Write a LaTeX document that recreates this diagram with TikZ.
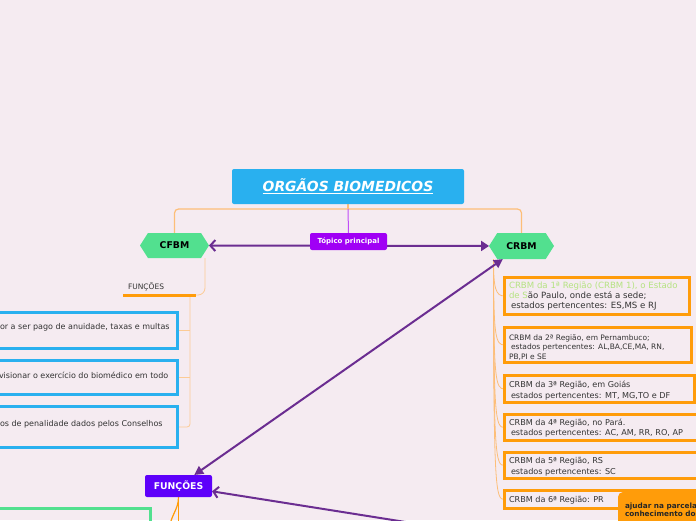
\documentclass[tikz,border=0pt]{standalone}
\usepackage{fontspec}
\setmainfont{DejaVu Sans}
\usetikzlibrary{shapes.symbols,arrows.meta,calc}
\definecolor{bg}{HTML}{F5EBF1}
\definecolor{titleblue}{HTML}{29B0EF}
\definecolor{topicpurple}{HTML}{A000F5}
\definecolor{hexgreen}{HTML}{52E08F}
\definecolor{funcviolet}{HTML}{5E00FA}
\definecolor{arrowpurple}{HTML}{6B2D91}
\definecolor{boxorange}{HTML}{FF9C0A}
\definecolor{lineorange}{HTML}{FDBE78}
\definecolor{paleorange}{HTML}{FCCB95}
\definecolor{textgray}{HTML}{333333}
\definecolor{lightgreen}{HTML}{B5E381}
\definecolor{stemviolet}{HTML}{C04DF7}
\pgfdeclarelayer{bgl}
\pgfdeclarelayer{back}
\pgfsetlayers{bgl,back,main}
\begin{document}
\begin{tikzpicture}[x=1pt,y=-1pt,
  every node/.style={inner sep=0pt, outer sep=0pt},
  hexnode/.style={signal, signal to=east and west, signal pointer angle=115, fill=hexgreen, font=\bfseries\fontsize{9.3}{10}\selectfont, text=black},
  lbox/.style={draw=titleblue, line width=3pt, fill=bg, anchor=north east, minimum width=200pt},
  rbox/.style={draw=boxorange, line width=3pt, fill=bg, anchor=north west},
  ltext/.style={anchor=west, text=textgray, font=\fontsize{8}{9}\selectfont},
  rtext/.style={anchor=west, align=left, text=textgray, font=\fontsize{8.1}{10.5}\selectfont},
  pconn/.style={draw=arrowpurple, line width=2pt},
  thinconn/.style={draw=paleorange, line width=0.8pt},
  rconn/.style={draw=lineorange, line width=0.8pt},
]
\path[use as bounding box] (0,0) rectangle (696,520);
\begin{pgfonlayer}{bgl}
  \fill[bg] (0,0) rectangle (696,520);
\end{pgfonlayer}

% main nodes
\node[fill=titleblue, rounded corners=2pt, minimum width=232pt, minimum height=35pt, text=white, font=\bfseries\fontsize{13.9}{15}\selectfont] (title) at (348,186.5) {\underline{\textit{ORGÃOS BIOMEDICOS}}};
\node[hexnode, minimum width=69pt, minimum height=25pt] (cfbm) at (174.5,245.5) {CFBM};
\node[hexnode, minimum width=65pt, minimum height=26pt] (crbm) at (521.5,246) {CRBM};
\node[fill=topicpurple, rounded corners=2pt, minimum width=77pt, minimum height=17pt, text=white, font=\bfseries\fontsize{7}{8}\selectfont] (topic) at (348.5,241.5) {Tópico principal};

% CFBM branch
\node[anchor=south west, minimum width=73pt, text width=63pt, inner xsep=5pt, inner ysep=4pt, align=left, text=textgray, font=\fontsize{7.5}{8}\selectfont] (flabel) at (123,295) {FUNÇÕES};
\draw[draw=boxorange, line width=3pt] (flabel.south west) -- (flabel.south east);
\node[lbox, minimum height=36pt] (lb1) at (177.5,312.5) {};
\node[lbox, minimum height=34pt] (lb2) at (177.5,360.5) {};
\node[lbox, minimum height=41pt] (lb3) at (177.5,406.5) {};
\node[ltext] (lt1) at (0,327) {or a ser pago de anuidade, taxas e multas};
\node[ltext] (lt2) at (-1,375) {visionar o exercício do biomédico em todo};
\node[ltext] (lt3) at (0,424) {os de penalidade dados pelos Conselhos};

% CRBM branch
\node[rbox, minimum width=185pt, minimum height=37pt] (rb1) at (504.5,277.5) {};
\node[rbox, minimum width=187pt, minimum height=35pt] (rb2) at (504.5,327.5) {};
\node[rbox, minimum width=190pt, minimum height=27pt] (rb3) at (504.5,375.5) {};
\node[rbox, minimum width=200pt, minimum height=26pt] (rb4) at (504.5,414.5) {};
\node[rbox, minimum width=200pt, minimum height=26pt] (rb5) at (504.5,452.5) {};
\node[rbox, minimum width=200pt, minimum height=18pt] (rb6) at (504.5,490.5) {};
\node[rtext, font=\fontsize{8.6}{10}\selectfont] (rt1) at (509,296) {{\color{lightgreen}CRBM da 1ª Região (CRBM 1), o Estado}\\{\color{lightgreen}de S}ão Paulo, onde está a sede;\\\hspace{2pt}estados pertencentes: ES,MS e RJ};
\node[rtext, font=\fontsize{7.5}{9.5}\selectfont] (rt2) at (509,347.5) {CRBM da 2ª Região, em Pernambuco;\\\hspace{2pt}estados pertencentes: AL,BA,CE,MA, RN,\\PB,PI e SE};
\node[rtext] (rt3) at (509,390.5) {CRBM da 3ª Região, em Goiás\\\hspace{2pt}estados pertencentes: MT, MG,TO e DF};
\node[rtext] (rt4) at (509,428) {CRBM da 4ª Região, no Pará.\\\hspace{2pt}estados pertencentes: AC, AM, RR, RO, AP};
\node[rtext] (rt5) at (509,466.5) {CRBM da 5ª Região, RS\\\hspace{2pt}estados pertencentes: SC};
\node[rtext] (rt6) at (509,500.5) {CRBM da 6ª Região: PR};
\node[fill=boxorange, rounded corners=5pt, anchor=north west, minimum width=90pt, minimum height=35pt] (ob) at (618,492) {};
\node[anchor=west, align=left, font=\bfseries\fontsize{7.3}{8}\selectfont, text=black!85] (obt) at (625,510) {ajudar na parcela\\conhecimento dos};

% FUNÇÕES node and bottom
\node[draw=hexgreen, line width=3pt, anchor=north east, minimum width=200pt, minimum height=30pt] (gb) at (150.5,508.5) {};
\node[fill=funcviolet, rounded corners=2pt, minimum width=67pt, minimum height=22pt, text=white, font=\bfseries\fontsize{9.3}{10}\selectfont] (funcoes) at (178.5,486) {FUNÇÕES};

\coordinate (crbmfoot) at ($(crbm.south)+(-28,0)$);
\coordinate (funcin) at (420,524.3);
\coordinate (fdown) at (178.5,530);
\coordinate (fcurve) at (169,530);
\coordinate (lbranch) at ($(flabel.south east)+(-6,0)$);

\begin{pgfonlayer}{back}
  \draw[draw=lineorange, line width=1.2pt, rounded corners=4pt] (cfbm.north) |- ($(title.south)+(0,5)$) -| (crbm.north);
  \draw[draw=lineorange, line width=1.2pt] (title.south) -- ++(0,5);
  \draw[draw=stemviolet, line width=1pt] ($(title.south)+(0,5)$) -- (topic.north);
  \draw[pconn, {Straight Barb[length=5pt,width=11pt]}-{Triangle[length=8pt,width=10pt]}] (cfbm) -- (crbm);
  \draw[thinconn, rounded corners=7pt] ($(cfbm.south)+(30.5,0)$) |- (flabel.south east);
  \draw[thinconn] (lb1.east) -- (lb1.east -| lbranch);
  \draw[thinconn] (lb2.east) -- (lb2.east -| lbranch);
  \draw[thinconn, rounded corners=3pt] (lb3.east) -| (lbranch);
  \foreach \b in {rb1,rb2,rb3,rb4,rb5,rb6}
    \draw[rconn] (crbmfoot) .. controls ($(crbmfoot |- \b.west)+(0,-8)$) and ($(crbmfoot |- \b.west)+(2,0)$) .. (\b.west);
  \draw[pconn, {Triangle[length=9pt,width=9pt]}-{Triangle[length=9pt,width=9pt]}] (crbm) -- (funcoes);
  \draw[pconn, -{Straight Barb[length=5pt,width=11pt]}] (funcin) -- (funcoes);
  \draw[draw=boxorange, line width=1.5pt] (funcoes.south) -- (fdown);
  \draw[draw=boxorange, line width=1.2pt] (funcoes.south) .. controls (178.5,510) and (171,514) .. (fcurve);
\end{pgfonlayer}
\end{tikzpicture}
\end{document}
